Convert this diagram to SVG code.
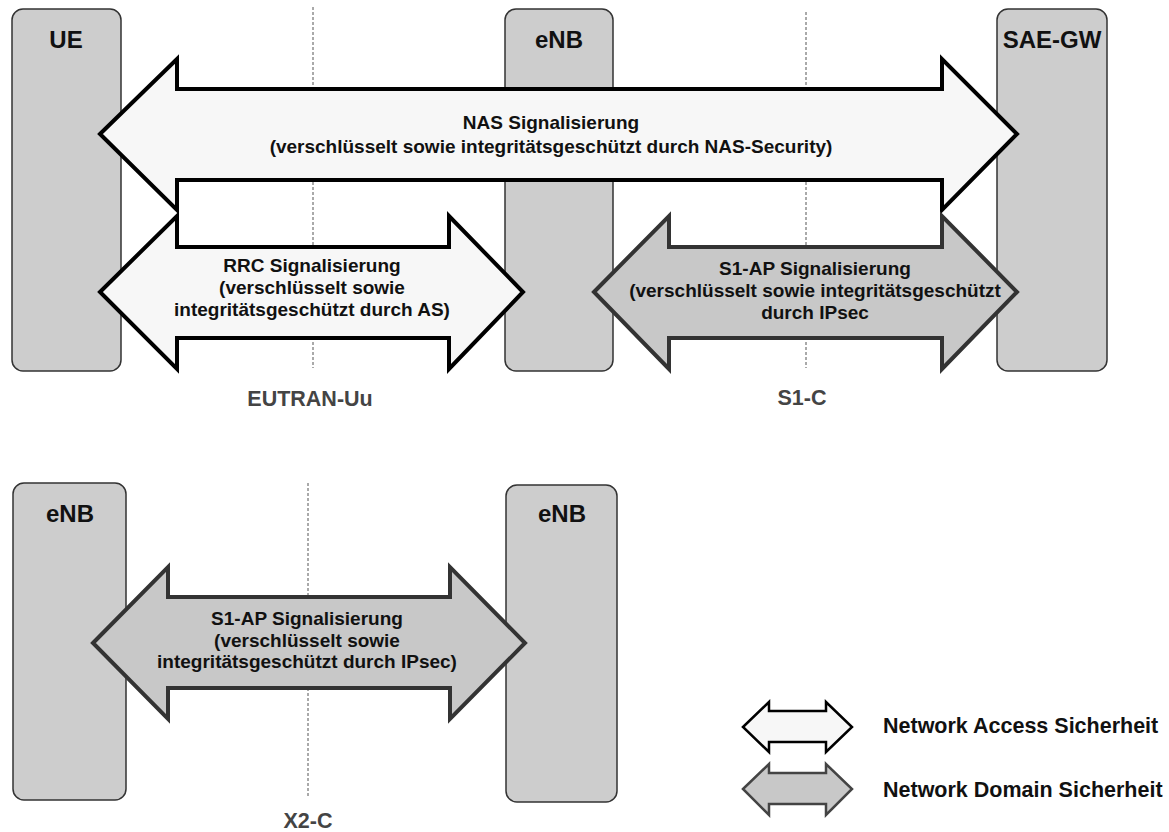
<svg xmlns="http://www.w3.org/2000/svg" width="1169" height="832" viewBox="0 0 1169 832">
<style>
.box{fill:#cdcdcd;stroke:#333;stroke-width:1.5}
.lbl{font-family:"Liberation Sans",Arial,sans-serif;font-weight:bold;font-size:24px;fill:#111;text-anchor:middle}
.ifc{font-family:"Liberation Sans",Arial,sans-serif;font-weight:bold;font-size:21.5px;fill:#444;text-anchor:middle}
.dash{stroke:#555;stroke-width:1;stroke-dasharray:3,2;fill:none}
.acc{fill:#f7f7f7;stroke:#000;stroke-width:4;stroke-linejoin:miter}
.dom{fill:#c8c8c8;stroke:#333;stroke-width:4;stroke-linejoin:miter}
.acc2{fill:#f7f7f7;stroke:#000;stroke-width:2.5}
.dom2{fill:#c8c8c8;stroke:#444;stroke-width:2.5}
.t{font-family:"Liberation Sans",Arial,sans-serif;font-weight:bold;font-size:19px;fill:#111;text-anchor:middle}
.leg{font-family:"Liberation Sans",Arial,sans-serif;font-weight:bold;font-size:21.5px;fill:#111}
</style>
<rect width="1169" height="832" fill="#fff"/>
<g id="UE"><rect class="box" x="12" y="9" width="109" height="362" rx="11"/><text class="lbl" x="66" y="48">UE</text></g>
<g id="eNB"><rect class="box" x="505" y="9" width="108" height="362" rx="11"/><text class="lbl" x="559" y="48">eNB</text></g>
<g id="SAE-GW"><rect class="box" x="997" y="9" width="110" height="362" rx="11"/><text class="lbl" x="1052" y="48">SAE-GW</text></g>
<g id="eNB-left"><rect class="box" x="13" y="483" width="113" height="317" rx="11"/><text class="lbl" x="70" y="522">eNB</text></g>
<g id="eNB-right"><rect class="box" x="506" y="485" width="111" height="317" rx="11"/><text class="lbl" x="562" y="522">eNB</text></g>
<g id="interfaces">
<line class="dash" x1="313" y1="7" x2="313" y2="368"/>
<line class="dash" x1="806" y1="12" x2="806" y2="368"/>
<line class="dash" x1="308" y1="483" x2="308" y2="798"/>
<text class="ifc" x="310" y="406">EUTRAN-Uu</text>
<text class="ifc" x="802" y="405">S1-C</text>
<text class="ifc" x="308" y="828">X2-C</text>
</g>
<g id="connectors">
<g id="nas">
<path class="acc" d="M100,134 L177,59 L177,89 L942,89 L942,59 L1017,134 L942,210 L942,180 L177,180 L177,210 Z"/>
<text class="t" x="551" y="129">NAS Signalisierung</text>
<text class="t" x="551" y="153">(verschlüsselt sowie integritätsgeschützt durch NAS-Security)</text>
</g>
<g id="rrc">
<path class="acc" d="M100,292 L177,216 L177,247 L449,247 L449,216 L523,292 L449,369 L449,338 L177,338 L177,369 Z"/>
<text class="t" x="312" y="272">RRC Signalisierung</text>
<text class="t" x="312" y="294">(verschlüsselt sowie</text>
<text class="t" x="312" y="316">integritätsgeschützt durch AS)</text>
</g>
<g id="s1ap">
<path class="dom" d="M594,292 L669,216 L669,247 L942,247 L942,216 L1017,292 L942,369 L942,338 L669,338 L669,369 Z"/>
<text class="t" x="815" y="275">S1-AP Signalisierung</text>
<text class="t" x="815" y="297">(verschlüsselt sowie integritätsgeschützt</text>
<text class="t" x="815" y="319">durch IPsec</text>
</g>
<g id="x2">
<path class="dom" d="M93,643 L168,567 L168,597 L450,597 L450,567 L525,643 L450,719 L450,688 L168,688 L168,719 Z"/>
<text class="t" x="307" y="625">S1-AP Signalisierung</text>
<text class="t" x="307" y="647">(verschlüsselt sowie</text>
<text class="t" x="307" y="668">integritätsgeschützt durch IPsec)</text>
</g>
</g>
<g id="legend">
<path class="acc2" d="M743,727 L769,702 L769,711 L826,711 L826,702 L852,727 L826,752 L826,742 L769,742 L769,752 Z"/>
<text class="leg" x="883" y="733">Network Access Sicherheit</text>
<path class="dom2" d="M743,789 L769,764 L769,773 L826,773 L826,764 L852,789 L826,815 L826,804 L769,804 L769,815 Z"/>
<text class="leg" x="883" y="797">Network Domain Sicherheit</text>
</g>
</svg>
